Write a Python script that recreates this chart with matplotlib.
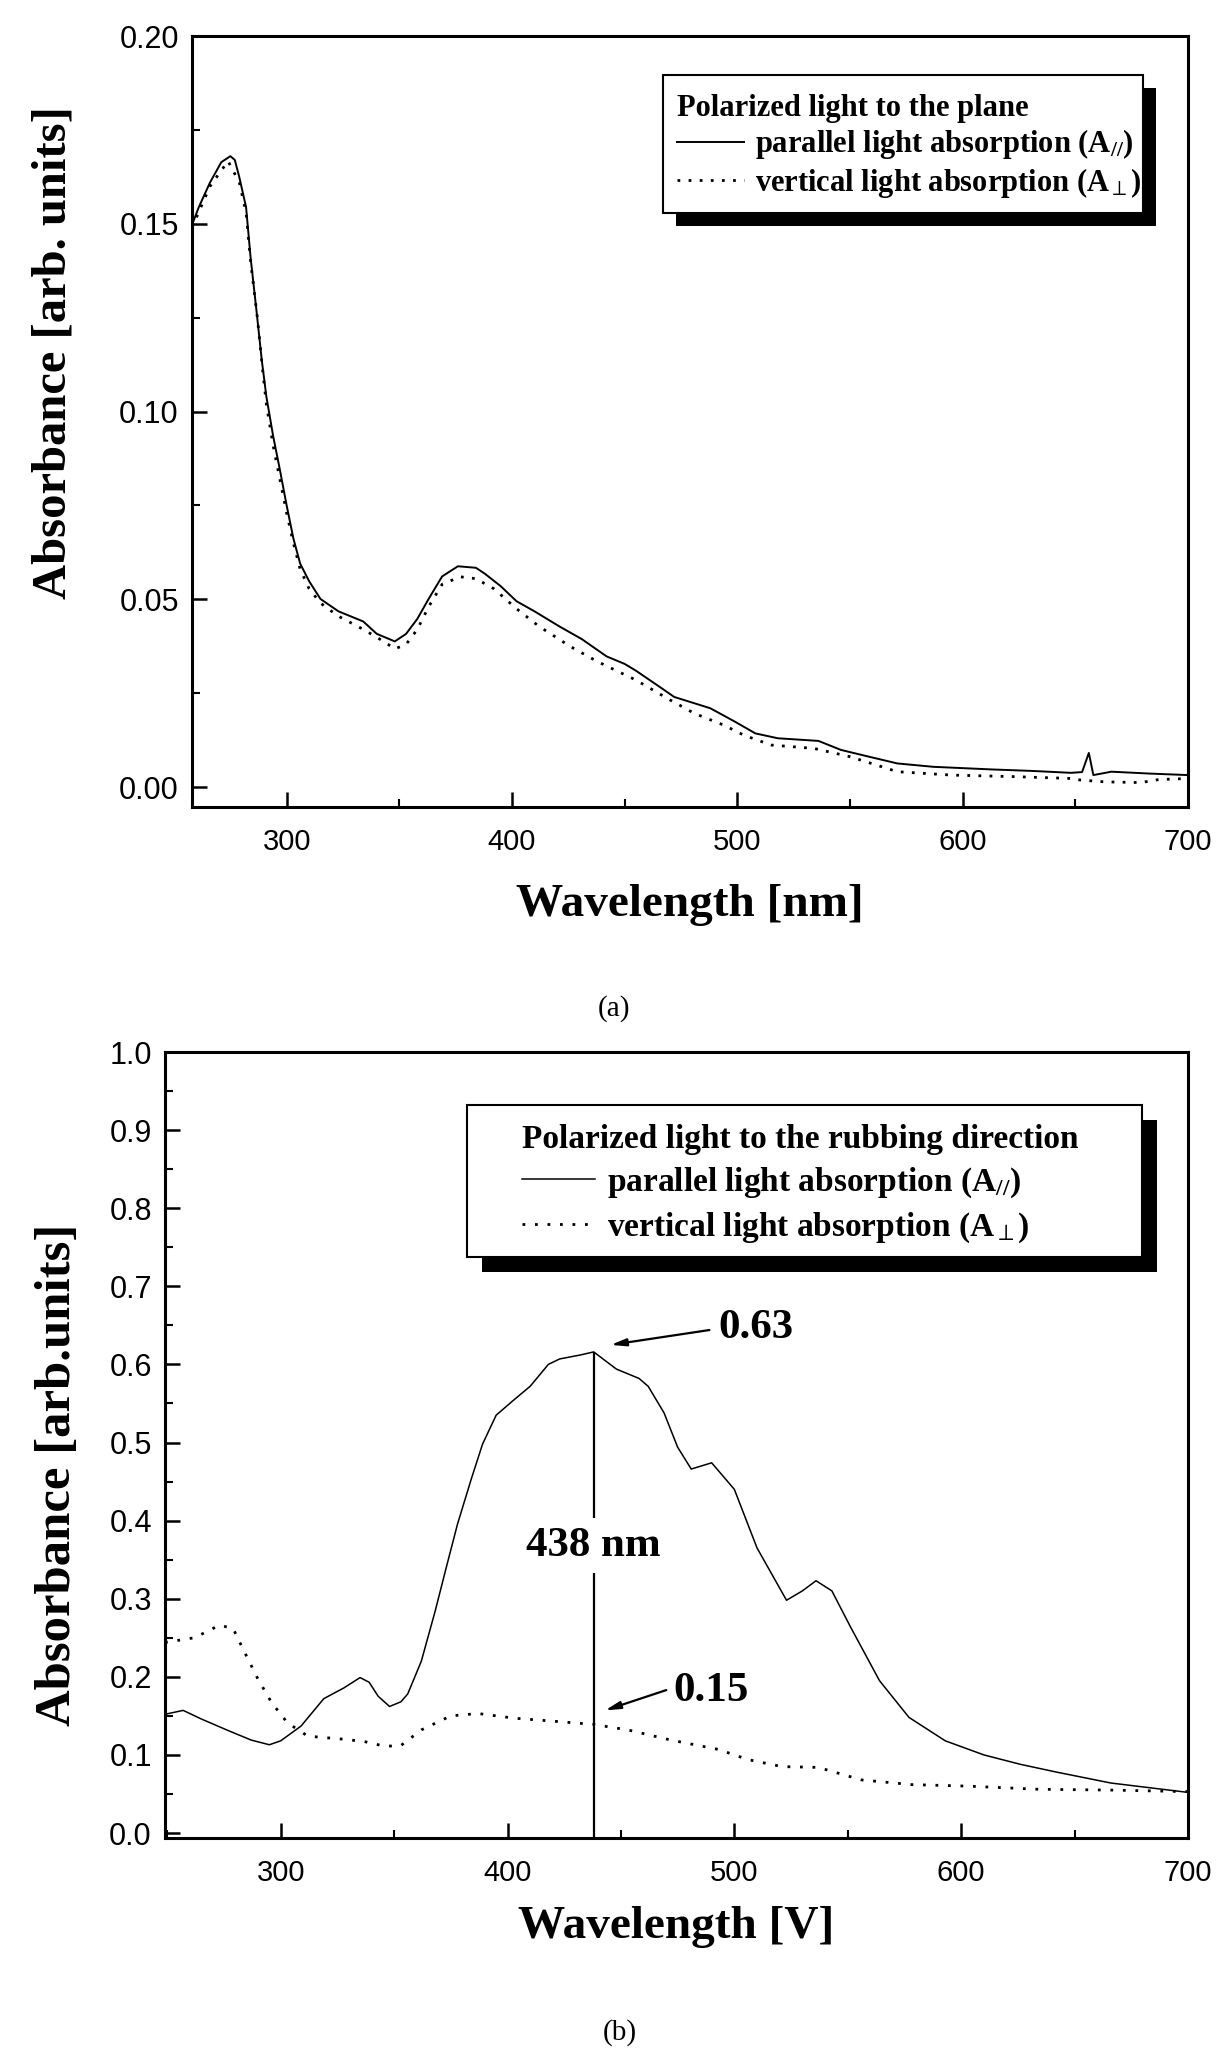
import matplotlib
matplotlib.use('Agg')
import matplotlib.pyplot as plt
from matplotlib.patches import Rectangle
from matplotlib.ticker import MultipleLocator, FormatStrFormatter
from matplotlib.font_manager import FontProperties

plt.rcParams['font.family'] = ['Liberation Sans', 'DejaVu Sans']
plt.rcParams['mathtext.fontset'] = 'custom'
plt.rcParams['mathtext.rm'] = 'Liberation Serif:bold'
plt.rcParams['mathtext.it'] = 'Liberation Serif:italic'
plt.rcParams['mathtext.bf'] = 'Liberation Serif:bold'
SERIF = ['Liberation Serif', 'DejaVu Serif']

# ---------------- data: panel (a) ----------------
a_wl_par = [258, 261, 266, 271, 275, 277, 279, 282, 284, 286.5, 289, 291, 294, 297, 300,
            303, 306, 310, 315, 323, 334, 340, 348, 353, 358, 363, 369, 376, 384, 388,
            395, 402, 410, 421, 431, 442, 450, 455, 466, 472, 480, 488, 499, 508, 518,
            536, 546, 557, 571, 587, 613, 631, 648, 653, 656, 658, 666, 683, 700]
a_abs_par = [0.1497, 0.1544, 0.161, 0.1664, 0.168, 0.167, 0.1624, 0.1544, 0.141, 0.1275,
             0.1135, 0.104, 0.0935, 0.0845, 0.0750, 0.0662, 0.0595, 0.0548, 0.0501, 0.0468,
             0.0441, 0.0408, 0.0388, 0.0408, 0.0448, 0.0501, 0.0561, 0.0588, 0.0584, 0.0568,
             0.0535, 0.0495, 0.0468, 0.0428, 0.0394, 0.0348, 0.0328, 0.0310, 0.0265, 0.0240,
             0.0225, 0.0210, 0.0174, 0.0143, 0.0130, 0.0123, 0.0099, 0.0083, 0.0063, 0.0054,
             0.0047, 0.0043, 0.0038, 0.0040, 0.0091, 0.0032, 0.0041, 0.0036, 0.0032]

a_wl_perp = [258, 266, 274, 279, 282, 284, 287, 289, 291, 294, 297, 300, 303, 306, 310,
             315, 323, 334, 343, 348, 353, 358, 363, 369, 377, 384, 392, 402, 412, 426,
             438, 455, 469, 481, 494, 503, 515, 534, 550, 571, 595, 622, 648, 652, 663,
             679, 687, 700]
a_abs_perp = [0.149, 0.160, 0.1667, 0.161, 0.153, 0.140, 0.125, 0.113, 0.102, 0.091,
              0.082, 0.073, 0.065, 0.058, 0.0528, 0.049, 0.0455, 0.042, 0.0388, 0.0368,
              0.038, 0.042, 0.048, 0.054, 0.056, 0.0555, 0.0528, 0.0475, 0.0428, 0.0374,
              0.0334, 0.0285, 0.0236, 0.0196, 0.0165, 0.0138, 0.0112, 0.0103, 0.0081, 0.0041,
              0.0032, 0.0028, 0.0023, 0.0019, 0.0014, 0.0012, 0.0020, 0.0023]

# ---------------- data: panel (b) ----------------
b_wl_par = [249, 257, 265, 277, 287, 295, 300, 309, 319, 328, 335, 339, 343, 348, 353,
            356, 362, 368, 373, 378, 384, 389, 395, 403, 410, 418, 423, 432, 438, 448,
            458, 462, 469, 475, 481, 490, 500, 510, 523, 530, 536, 543, 551, 564, 577,
            593, 610, 626, 642, 666, 683, 700]
b_abs_par = [0.152, 0.157, 0.146, 0.131, 0.119, 0.113, 0.118, 0.137, 0.172, 0.186,
             0.199, 0.193, 0.175, 0.162, 0.168, 0.178, 0.220, 0.283, 0.340, 0.396,
             0.453, 0.498, 0.535, 0.555, 0.572, 0.600, 0.607, 0.612, 0.616, 0.594,
             0.582, 0.572, 0.538, 0.494, 0.466, 0.474, 0.440, 0.365, 0.298, 0.310,
             0.323, 0.310, 0.265, 0.195, 0.148, 0.118, 0.100, 0.088, 0.078, 0.064,
             0.058, 0.052]

b_wl_perp = [249, 262, 273, 279, 284, 290, 296, 303, 312, 328, 337, 346, 353, 362, 375,
             387, 403, 421, 438, 453, 472, 493, 506, 521, 537, 556, 578, 603, 634, 665, 700]
b_abs_perp = [0.244, 0.250, 0.266, 0.262, 0.232, 0.197, 0.167, 0.141, 0.124, 0.120,
              0.117, 0.111, 0.112, 0.132, 0.150, 0.153, 0.147, 0.143, 0.139, 0.132,
              0.119, 0.107, 0.094, 0.085, 0.084, 0.068, 0.062, 0.060, 0.056, 0.055, 0.053]

peak_wl = 438
peak_par = 0.616
label_par = r'parallel light absorption (A$_{\mathit{//}}$)'
label_perp = r'vertical light absorption (A$_{\perp}$)'

# ---------------- figure ----------------
W, H = 1221, 2054
fig = plt.figure(figsize=(W / 100, H / 100), dpi=100)


def rect(l, t, r, b):
    return [l / W, 1 - b / H, (r - l) / W, (b - t) / H]


ax1 = fig.add_axes(rect(192, 36, 1188, 807))
ax2 = fig.add_axes(rect(165, 1052, 1188, 1838))


def style(ax, ymaj, ymin_, fmt):
    for s in ax.spines.values():
        s.set_linewidth(2.2)
    ax.xaxis.set_major_locator(MultipleLocator(100))
    ax.xaxis.set_minor_locator(MultipleLocator(50))
    ax.yaxis.set_major_locator(MultipleLocator(ymaj))
    ax.yaxis.set_minor_locator(MultipleLocator(ymin_))
    ax.yaxis.set_major_formatter(FormatStrFormatter(fmt))
    ax.tick_params(which='both', direction='in', top=False, right=False)
    ax.tick_params(which='major', length=11, width=1.8)
    ax.tick_params(which='minor', length=5.5, width=1.5)
    ax.tick_params(axis='x', which='major', pad=15, labelsize=21)
    ax.tick_params(axis='y', which='major', pad=9.5, labelsize=22)


leg_font = lambda s: FontProperties(family=SERIF, weight='bold', size=s)

# ---- panel (a) ----
l1, = ax1.plot(a_wl_par, a_abs_par, color='black', lw=1.4)
l2, = ax1.plot(a_wl_perp, a_abs_perp, color='black', lw=2.0, linestyle=(0, (1, 3)))
ax1.set_xlim(258, 700)
ax1.set_ylim(-0.0053, 0.20)
style(ax1, 0.05, 0.025, '%.2f')
ax1.set_xlabel('Wavelength [nm]', fontsize=34, fontweight='bold', family=SERIF)
ax1.set_ylabel('Absorbance [arb. units]', fontsize=35, fontweight='bold', family=SERIF)
ax1.xaxis.set_label_coords(0.5, -0.1)
ax1.yaxis.set_label_coords(-0.1165, 0.59)

# legend frame + shadow (a)
fx0, fy0, fx1, fy1 = 0.4729, 0.7704, 0.9548, 0.9494
ax1.add_patch(Rectangle((fx0 + 0.013, fy0 - 0.0169), fx1 - fx0, fy1 - fy0, transform=ax1.transAxes,
                        facecolor='black', edgecolor='none', zorder=4, clip_on=False))
ax1.add_patch(Rectangle((fx0, fy0), fx1 - fx0, fy1 - fy0, transform=ax1.transAxes,
                        facecolor='white', edgecolor='black', lw=1.5, zorder=4.5, clip_on=False))
leg1 = ax1.legend([l1, l2], [label_par, label_perp], title='Polarized light to the plane',
                  loc='upper left', bbox_to_anchor=(0.487, 0.925), borderaxespad=0, borderpad=0,
                  frameon=False, prop=leg_font(22), title_fontproperties=leg_font(22),
                  alignment='left', handlelength=2.2, handletextpad=0.35, labelspacing=0.15)
leg1.set_zorder(5)

# ---- panel (b) ----
m1, = ax2.plot(b_wl_par, b_abs_par, color='black', lw=1.1)
m2, = ax2.plot(b_wl_perp, b_abs_perp, color='black', lw=2.0, linestyle=(0, (1, 3.5)))
ax2.set_xlim(249, 700)
ax2.set_ylim(-0.0064, 1.0)
style(ax2, 0.1, 0.05, '%.1f')
ax2.set_xlabel('Wavelength [V]', fontsize=34, fontweight='bold', family=SERIF)
ax2.set_ylabel('Absorbance [arb.units]', fontsize=36.5, fontweight='bold', family=SERIF)
ax2.xaxis.set_label_coords(0.5, -0.0865)
ax2.yaxis.set_label_coords(-0.082, 0.462)

fx0, fy0, fx1, fy1 = 0.2952, 0.739, 0.955, 0.9326
ax2.add_patch(Rectangle((fx0 + 0.0147, fy0 - 0.019), fx1 - fx0, fy1 - fy0, transform=ax2.transAxes,
                        facecolor='black', edgecolor='none', zorder=4, clip_on=False))
ax2.add_patch(Rectangle((fx0, fy0), fx1 - fx0, fy1 - fy0, transform=ax2.transAxes,
                        facecolor='white', edgecolor='black', lw=1.5, zorder=4.5, clip_on=False))
leg2 = ax2.legend([m1, m2], [label_par, label_perp],
                  title='Polarized light to the rubbing direction',
                  loc='upper left', bbox_to_anchor=(0.349, 0.909), borderaxespad=0, borderpad=0,
                  frameon=False, prop=leg_font(24), title_fontproperties=leg_font(24),
                  alignment='left', handlelength=2.2, handletextpad=0.35, labelspacing=0.32)
leg2.set_zorder(5)

# annotations (b)
ax2.vlines(peak_wl, -0.0064, peak_par, color='black', lw=1.6, zorder=3)
ax2.text(peak_wl, 0.368, '438 nm', ha='center', va='center', fontsize=31, fontweight='bold',
         family=SERIF, zorder=4,
         bbox=dict(boxstyle='square,pad=0.2', facecolor='white', edgecolor='none'))
arrow = dict(arrowstyle='-|>,head_length=0.9,head_width=0.22', color='black', lw=1.6,
             shrinkA=0, shrinkB=0)
ax2.annotate('', xy=(445.5, 0.625), xytext=(489, 0.644), arrowprops=arrow)
ax2.text(493, 0.647, '0.63', ha='left', va='center', fontsize=31, fontweight='bold', family=SERIF)
ax2.annotate('', xy=(443, 0.157), xytext=(470, 0.183), arrowprops=arrow)
ax2.text(473, 0.182, '0.15', ha='left', va='center', fontsize=31, fontweight='bold', family=SERIF)

fig.text(614 / W, 1 - 1009 / H, '(a)', ha='center', va='center', fontsize=21, family=SERIF)
fig.text(620 / W, 1 - 2033 / H, '(b)', ha='center', va='center', fontsize=21, family=SERIF)

fig.savefig('out.png', dpi=100, facecolor='white')
